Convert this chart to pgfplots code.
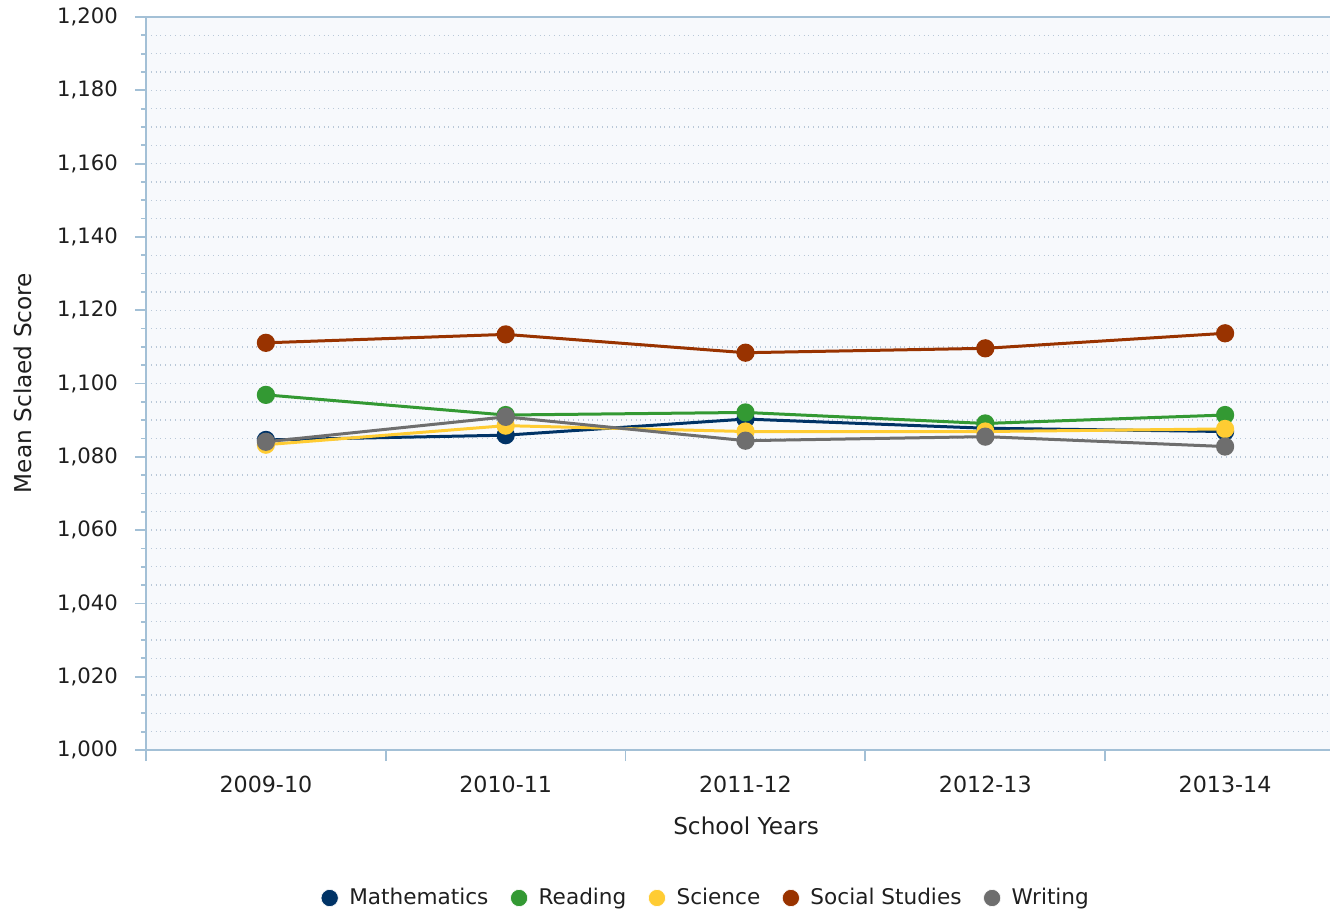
\documentclass[border=0pt]{standalone}
\usepackage{pgfplots}
\pgfplotsset{compat=1.18}
\usepackage{fontspec}
\setmainfont{DejaVu Sans}
\definecolor{cMath}{HTML}{003366}
\definecolor{cRead}{HTML}{339933}
\definecolor{cSci}{HTML}{FFCC33}
\definecolor{cSoc}{HTML}{993300}
\definecolor{cWri}{HTML}{6E6E6E}
\definecolor{bgc}{HTML}{F7F9FC}
\definecolor{axc}{HTML}{A3C0D6}
\definecolor{gridc}{HTML}{B9C8D8}
\begin{document}
\begin{tikzpicture}
\begin{axis}[name=ax, at={(0,0)}, anchor=south west,
  scale only axis, width=592pt, height=366.5pt,
  xmin=-0.5, xmax=4.4375, ymin=1000, ymax=1200,
  axis background/.style={fill=bgc},
  axis x line=box, axis y line=left,
  axis line style={-, draw=axc, line width=0.9pt},
  xtick pos=bottom, ytick pos=left,
  tick align=outside,
  tick style={draw=axc, line width=0.9pt},
  major tick length=5.5pt, minor tick length=2.5pt,
  xtick={-0.5,0.5,1.5,2.5,3.5}, xticklabels={},
  extra x ticks={0,1,2,3,4},
  extra x tick labels={2009-10,2010-11,2011-12,2012-13,2013-14},
  extra x tick style={major tick length=0pt, grid=none},
  ytick={1000,1020,...,1200}, minor y tick num=3,
  ymajorgrids, yminorgrids,
  major grid style={dotted, gridc, line width=0.7pt},
  minor grid style={dotted, gridc, line width=0.7pt},
  ticklabel style={text=black!88},
  xticklabel style={font=\fontsize{11.1}{12}\selectfont, yshift=-9.5pt},
  yticklabel style={font=\fontsize{10.6}{12}\selectfont, xshift=-5pt},
  /pgf/number format/.cd, 1000 sep={,}, assume math mode=true,
  /pgfplots/.cd,
  xlabel={School Years}, ylabel={Mean Sclaed Score},
  label style={font=\fontsize{11.6}{13}\selectfont, text=black!88},
  xlabel style={at={(axis description cs:0.5068,0)}, anchor=center, yshift=-38pt},
  ylabel style={at={(axis description cs:-0.1038,0.5007)}, anchor=center, rotate=0},
  legend columns=5,
  legend style={at={(axis description cs:0.4738,-0.2019)}, anchor=center,
    draw=none, fill=none, font=\fontsize{10.8}{12}\selectfont, text=black!88,
    /tikz/every even column/.append style={column sep=9pt},
    /tikz/every odd column/.append style={column sep=3.5pt}},
  legend image code/.code={\draw[mark=*, mark size=4.3pt, line width=0pt, mark options={draw=white, line width=0.3pt}] plot coordinates {(0cm,0cm)};},
  every axis plot/.append style={line width=1.5pt, mark=*, mark size=3.8pt, mark options={solid}},
]
\addplot[color=cMath] coordinates {(0,1084.6) (1,1085.9) (2,1090.3) (3,1087.8) (4,1086.9)};
\addlegendentry{Mathematics}
\addplot[color=cRead] coordinates {(0,1096.9) (1,1091.4) (2,1092.1) (3,1089.1) (4,1091.4)};
\addlegendentry{Reading}
\addplot[color=cSci] coordinates {(0,1083.3) (1,1088.5) (2,1086.9) (3,1086.9) (4,1087.6)};
\addlegendentry{Science}
\addplot[color=cSoc] coordinates {(0,1111.1) (1,1113.4) (2,1108.4) (3,1109.6) (4,1113.7)};
\addlegendentry{Social Studies}
\addplot[color=cWri] coordinates {(0,1084.1) (1,1090.9) (2,1084.4) (3,1085.5) (4,1082.8)};
\addlegendentry{Writing}
\end{axis}
\pgfresetboundingbox
\path[use as bounding box] ([shift={(-73pt,-81pt)}]ax.south west) rectangle ([shift={(592pt,375pt)}]ax.south west);
\end{tikzpicture}
\end{document}
